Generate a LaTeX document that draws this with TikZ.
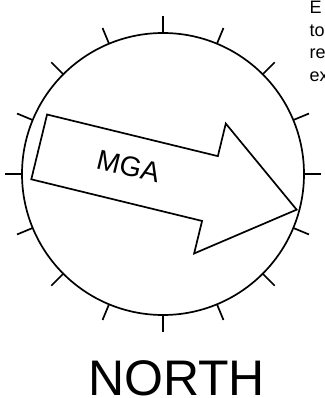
\documentclass[tikz,border=0pt]{standalone}
\usepackage{fontspec}
\setmainfont{Liberation Sans}
\usepackage{tikz}
\usetikzlibrary{shapes.arrows}

\begin{document}
\begin{tikzpicture}[x=1pt, y=-1pt,
        dial/.style={draw, circle, minimum size=282pt, inner sep=0pt, line width=1.7pt},
        tickmark/.style={line width=1.7pt},
        pointer/.style={draw, single arrow, line width=1.7pt, inner xsep=0pt, inner ysep=32.5pt,
        minimum height=265pt, minimum width=132pt,
        single arrow head extend=33.5pt, single arrow tip angle=73.7},
        lbl/.style={inner sep=0pt, font=\fontsize{28}{28}\selectfont}
      ]
      \useasboundingbox (0,0) rectangle (324,398);
      \node[dial] (ring) at (163,174) {};
      \foreach \a in {0,22.5,...,337.5}
        \draw[tickmark] (ring.center) ++(\a:141pt) -- ++(\a:17pt);

      \node[pointer, rotate=-13.7, anchor=tip] (mga) at (298,210) {};
      \node[lbl, rotate=-13.7] (mgatext) at (128.5,166.5) {MGA};

      \node[inner sep=0pt, anchor=base] (north) at (176.5,395)
        {\fontsize{50}{50}\selectfont NORTH};
      % cut-off note in the corner
      \node[inner sep=0pt, anchor=north west, align=left,
        font=\fontsize{18}{22.7}\selectfont] (note) at (309.5,1) {E\\to\\re\\ex};
    \end{tikzpicture}
\end{document}
